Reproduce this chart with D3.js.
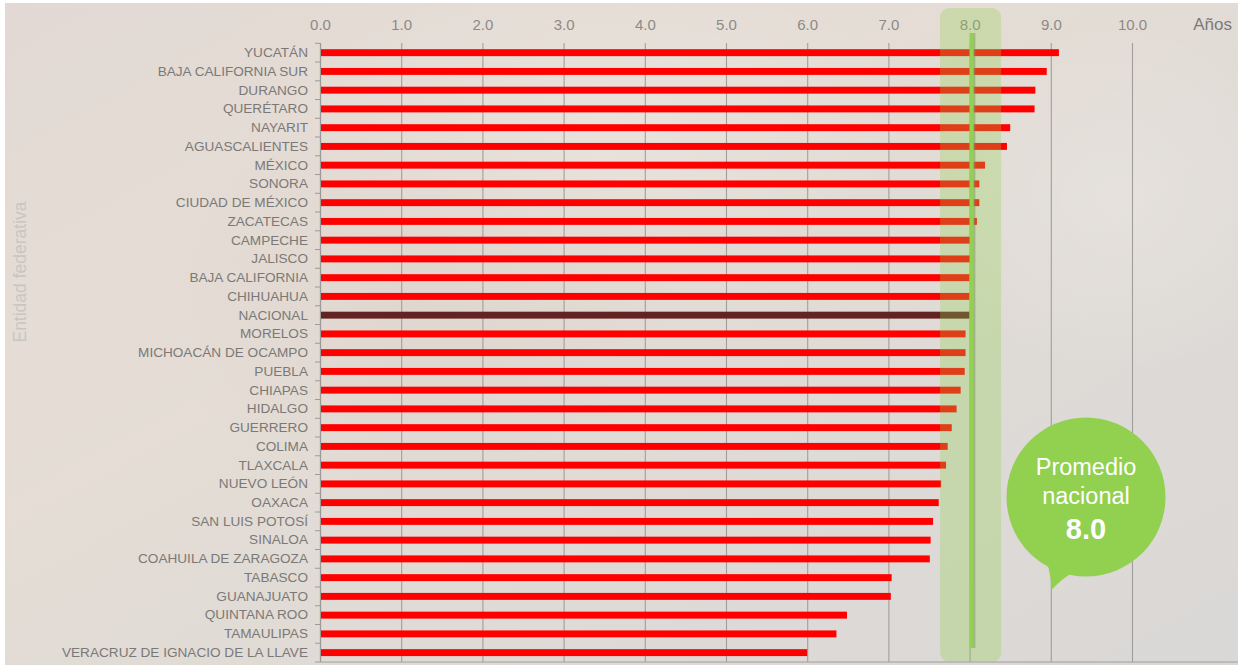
<!DOCTYPE html>
<html>
<head>
<meta charset="utf-8">
<script src="https://cdn.jsdelivr.net/npm/d3@7"></script>
<style>
  html, body { margin: 0; padding: 0; background: #ffffff; }
  svg { display: block; }
</style>
</head>
<body>
<svg id="chart" width="1238" height="665"></svg>
<script>
const categories = ["YUCATÁN","BAJA CALIFORNIA SUR","DURANGO","QUERÉTARO","NAYARIT","AGUASCALIENTES","MÉXICO","SONORA","CIUDAD DE MÉXICO","ZACATECAS","CAMPECHE","JALISCO","BAJA CALIFORNIA","CHIHUAHUA","NACIONAL","MORELOS","MICHOACÁN DE OCAMPO","PUEBLA","CHIAPAS","HIDALGO","GUERRERO","COLIMA","TLAXCALA","NUEVO LEÓN","OAXACA","SAN LUIS POTOSÍ","SINALOA","COAHUILA DE ZARAGOZA","TABASCO","GUANAJUATO","QUINTANA ROO","TAMAULIPAS","VERACRUZ DE IGNACIO DE LA LLAVE"];
const values = [9.10,8.95,8.81,8.80,8.50,8.46,8.19,8.12,8.12,8.09,8.02,8.01,8.0,8.0,8.0,7.95,7.95,7.94,7.89,7.84,7.78,7.73,7.71,7.65,7.62,7.55,7.52,7.51,7.04,7.03,6.49,6.36,6.00];
const xTicks = [0,1,2,3,4,5,6,7,8,9,10];
const nationalAverage = 8.0;
const highlightCategory = "NACIONAL";
const axisTitleX = "Años";
const axisTitleY = "Entidad federativa";
const calloutLines = ["Promedio", "nacional"];
const calloutValue = "8.0";

const svg = d3.select("#chart");
const W = 1238, H = 665;
const FONT = "'Liberation Sans', Arial, Helvetica, sans-serif";

// background
const defs = svg.append("defs");
const bg = defs.append("linearGradient").attr("id","bg").attr("x1","0").attr("y1","0").attr("x2","1").attr("y2","1");
bg.append("stop").attr("offset","0%").attr("stop-color","#e2d9d4");
bg.append("stop").attr("offset","35%").attr("stop-color","#e5ddd5");
bg.append("stop").attr("offset","70%").attr("stop-color","#dedad6");
bg.append("stop").attr("offset","100%").attr("stop-color","#dad8d6");
const blot = defs.append("radialGradient").attr("id","blot");
blot.append("stop").attr("offset","0%").attr("stop-color","#ffffff").attr("stop-opacity",0.18);
blot.append("stop").attr("offset","100%").attr("stop-color","#ffffff").attr("stop-opacity",0);
const blot2 = defs.append("radialGradient").attr("id","blot2");
blot2.append("stop").attr("offset","0%").attr("stop-color","#b9aea6").attr("stop-opacity",0.12);
blot2.append("stop").attr("offset","100%").attr("stop-color","#b9aea6").attr("stop-opacity",0);

svg.append("rect").attr("x",5).attr("y",3).attr("width",W-5).attr("height",H-3).attr("fill","url(#bg)");
svg.append("ellipse").attr("cx",600).attr("cy",120).attr("rx",320).attr("ry",150).attr("fill","url(#blot)");
svg.append("ellipse").attr("cx",420).attr("cy",300).attr("rx",260).attr("ry",200).attr("fill","url(#blot2)");
svg.append("ellipse").attr("cx",1120).attr("cy",200).attr("rx",200).attr("ry",180).attr("fill","url(#blot)");

// scales
const x = d3.scaleLinear().domain([0,10]).range([320,1132]);
const y = d3.scaleBand().domain(categories).range([43.3,662]).paddingInner(0.63).paddingOuter(0.315);

// vertical gridlines
svg.append("g").selectAll("line").data(xTicks).join("line")
  .attr("x1", d => x(d) + 0.5).attr("x2", d => x(d) + 0.5)
  .attr("y1", 43).attr("y2", 662)
  .attr("stroke", "#a09e9c").attr("stroke-width", 1.1);

// bottom line
svg.append("line").attr("x1",320).attr("x2",1238).attr("y1",662).attr("y2",662)
  .attr("stroke","#a09e9c").attr("stroke-width",1);

// top axis
const xAxis = d3.axisTop(x).tickValues(xTicks).tickFormat(d3.format(".1f")).tickSize(0).tickPadding(0);
const gx = svg.append("g").attr("transform","translate(0,30)").call(xAxis);
gx.select(".domain").remove();
gx.selectAll("text").attr("font-family",FONT).attr("font-size",15).attr("fill","#8c8a88").attr("dy","0");

svg.append("text").attr("x",1232).attr("y",30).attr("text-anchor","end")
  .attr("font-family",FONT).attr("font-size",17).attr("fill","#7c7a78").text(axisTitleX);

// y axis
const yAxis = d3.axisLeft(y).tickSize(0).tickPadding(12);
const gy = svg.append("g").attr("transform","translate(320,0)").call(yAxis);
gy.select(".domain").remove();
gy.selectAll("text").attr("font-family",FONT).attr("font-size",13.6).attr("fill","#7b7977");
svg.append("line").attr("x1",320.5).attr("x2",320.5).attr("y1",43).attr("y2",662).attr("stroke","#9c9a98").attr("stroke-width",1.2);
// boundary ticks
const boundaries = categories.map(c => y(c) - y.step()*y.paddingInner()/2).concat([662]);
svg.append("g").selectAll("line").data(boundaries).join("line")
  .attr("x1",315).attr("x2",320).attr("y1",d=>d).attr("y2",d=>d)
  .attr("stroke","#9c9a98").attr("stroke-width",1);

svg.append("text").attr("transform","translate(26,272) rotate(-90)").attr("text-anchor","middle")
  .attr("font-family",FONT).attr("font-size",17.5).attr("fill","#c9c5c2").text(axisTitleY);

// bars
svg.append("g").selectAll("rect").data(categories).join("rect")
  .attr("x", x(0) + 1)
  .attr("y", d => y(d))
  .attr("width", (d,i) => x(values[i]) - x(0) - 1)
  .attr("height", y.bandwidth())
  .attr("fill", d => d === highlightCategory ? "#642323" : "#ff0000");

// highlight band
const bandHalf = 30.5;
svg.append("rect").attr("x", x(nationalAverage) + 1 - bandHalf).attr("y", 8)
  .attr("width", bandHalf*2).attr("height", 654).attr("rx", 9)
  .attr("fill", "#92d050").attr("opacity", 0.3);

// average line
svg.append("line").attr("x1", x(nationalAverage)+3.5).attr("x2", x(nationalAverage)+3.5)
  .attr("y1", 33).attr("y2", 648).attr("stroke","#7d8f6a").attr("stroke-width",4.5).attr("opacity",0.5);
svg.append("line").attr("x1", x(nationalAverage)+2).attr("x2", x(nationalAverage)+2)
  .attr("y1", 33).attr("y2", 648).attr("stroke","#92d050").attr("stroke-width",4.2);

// callout bubble
const cb = svg.append("g");
cb.append("path").attr("d","M1041 548 Q1051 568 1051.5 590 Q1062 578 1080 568 Z").attr("fill","#92d050");
cb.append("circle").attr("cx",1086).attr("cy",497).attr("r",79.5).attr("fill","#92d050");
cb.append("text").attr("x",1086).attr("y",475).attr("text-anchor","middle")
  .attr("font-family",FONT).attr("font-size",23.5).attr("fill","#ffffff").text(calloutLines[0]);
cb.append("text").attr("x",1086).attr("y",504).attr("text-anchor","middle")
  .attr("font-family",FONT).attr("font-size",23.5).attr("fill","#ffffff").text(calloutLines[1]);
cb.append("text").attr("x",1086).attr("y",538.5).attr("text-anchor","middle")
  .attr("font-family",FONT).attr("font-size",29).attr("font-weight","bold").attr("fill","#ffffff").text(calloutValue);
</script>
</body>
</html>
